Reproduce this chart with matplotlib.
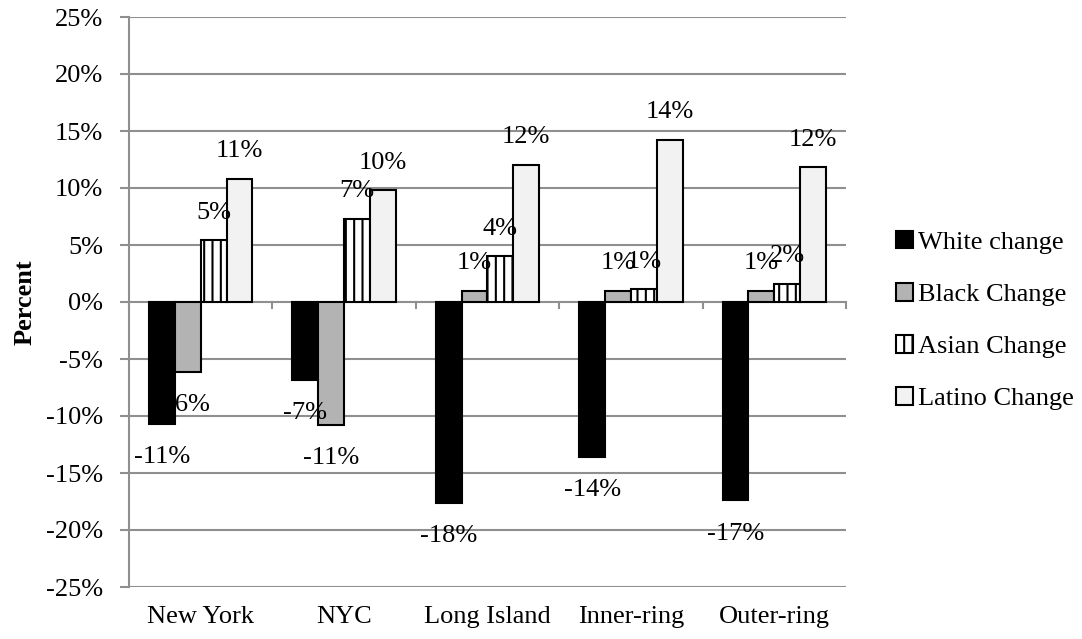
import matplotlib
matplotlib.use("Agg")
import matplotlib.pyplot as plt
import numpy as np

categories = ["New York", "NYC", "Long Island", "Inner-ring", "Outer-ring"]
series_names = ["White change", "Black Change", "Asian Change", "Latino Change"]
white = [-10.7, -6.8, -17.6, -13.6, -17.4]
black = [-6.1, -10.8, 1.0, 1.0, 1.0]
asian = [5.4, 7.3, 4.0, 1.1, 1.6]
latino = [10.8, 9.8, 12.0, 14.2, 11.8]
labels_white = ["-11%", "-7%", "-18%", "-14%", "-17%"]
labels_black = ["-6%", "-11%", "1%", "1%", "1%"]
labels_asian = ["5%", "7%", "4%", "1%", "2%"]
labels_latino = ["11%", "10%", "12%", "14%", "12%"]
yticks = list(range(-25, 30, 5))

plt.rcParams['font.family'] = ['Liberation Serif', 'DejaVu Serif']
plt.rcParams['hatch.linewidth'] = 1.5

W, H = 1082, 639
fig = plt.figure(figsize=(W / 100, H / 100), dpi=100)
ax = fig.add_axes([129 / W, (H - 587) / H, 717 / W, 570 / H])

grid_c = '#8f8f8f'
fs = 19
x = np.arange(len(categories))
w = 0.18
data = [white, black, asian, latino]
labs = [labels_white, labels_black, labels_asian, labels_latino]
styles = [dict(color='black', edgecolor='black'),
          dict(color='#b3b3b3', edgecolor='black'),
          dict(color='white', edgecolor='black', hatch='||'),
          dict(color='#f2f2f2', edgecolor='black')]

ax.set_xlim(-0.5, len(categories) - 0.5)
ax.set_ylim(-25, 25)
for yv in yticks:
    ax.axhline(yv, color=grid_c, lw=1.5, zorder=0)

bars_all = []
for i, (vals, st, name) in enumerate(zip(data, styles, series_names)):
    pos = x + (i - 1.5) * w
    ax.bar(pos, vals, width=w, linewidth=1.5, label=name, zorder=3, **st)
    bars_all.append((pos, vals))

# category tick marks at zero line
for xb in np.arange(-0.5, len(categories) + 0.5, 1.0):
    ax.plot([xb, xb], [0, -0.5], color=grid_c, lw=1.5, zorder=1, clip_on=False)

for (pos, vals), lab in zip(bars_all, labs):
    for p, v, t in zip(pos, vals, lab):
        off = 20 if v >= 0 else -24
        ax.annotate(t, (p, v), xytext=(0, off), textcoords='offset points',
                    ha='center', va='center', fontsize=fs, zorder=5)

ax.set_yticks(yticks)
ax.set_yticklabels([f"{v}%" for v in yticks], fontsize=fs)
ax.set_xticks(x)
ax.set_xticklabels(categories, fontsize=fs)
ax.tick_params(axis='x', length=0, pad=14)
ax.tick_params(axis='y', length=6.5, color=grid_c, width=1.5, pad=12)
for s in ['top', 'right', 'bottom']:
    ax.spines[s].set_visible(False)
ax.spines['left'].set_color(grid_c)
ax.spines['left'].set_linewidth(1.5)
ax.set_ylabel("Percent", fontsize=fs, fontweight='bold', labelpad=7)

leg = fig.legend(loc='center left', bbox_to_anchor=(896 / W, 1 - 320.5 / H),
                 frameon=False, fontsize=fs, handlelength=0.65, handleheight=0.65,
                 handletextpad=0.2, labelspacing=1.1, borderpad=0, borderaxespad=0)

fig.savefig("out.png", dpi=100)
